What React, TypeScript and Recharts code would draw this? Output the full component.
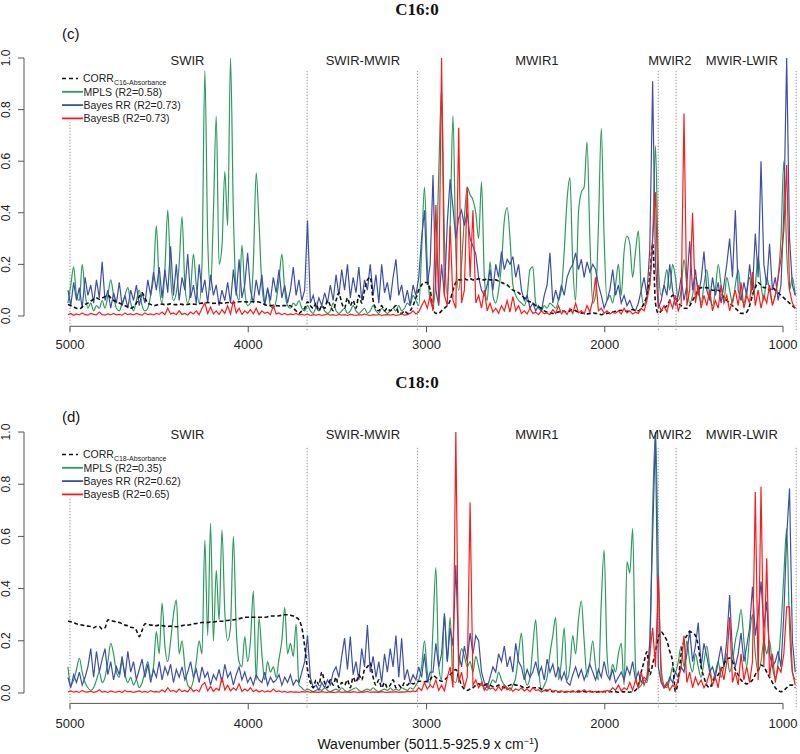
import React from 'react';
import { ComposedChart, Line, XAxis, YAxis, ReferenceLine, ReferenceDot, Legend } from 'recharts';

// wavenumber grid (cm-1), high to low, 16 cm-1 apart
const wave = Array.from({ length: 256 }, (_, i) => 5011.5 - 16 * i);

const xTicks = [5000, 4000, 3000, 2000, 1000];
const yTicks = [0, 0.2, 0.4, 0.6, 0.8, 1.0];
const regionBounds = [5000, 3670, 3050, 1700, 1600, 926];
const regionNames = ['SWIR', 'SWIR-MWIR', 'MWIR1', 'MWIR2', 'MWIR-LWIR'];
const regionCentres = [4341, 3357, 2381, 1635, 1231];

// ---- C16:0 ----
const c16Corr = [
  0.045,0.04,0.035,0.03,0.028,0.035,0.045,0.05,0.058,0.065,0.07,0.065,0.07,0.075,0.08,0.07,
  0.06,0.055,0.05,0.045,0.04,0.035,0.03,0.035,0.05,0.075,0.09,0.07,0.05,0.045,0.04,0.042,
  0.045,0.046,0.044,0.045,0.047,0.045,0.044,0.046,0.045,0.043,0.045,0.047,0.046,0.045,0.048,0.05,
  0.05,0.052,0.05,0.049,0.05,0.051,0.05,0.05,0.052,0.05,0.05,0.054,0.055,0.056,0.055,0.054,
  0.055,0.056,0.055,0.054,0.05,0.045,0.04,0.04,0.041,0.04,0.039,0.04,0.04,0.041,0.04,0.03,
  0.02,0.01,0.02,0.03,0.055,0.04,0.03,0.05,0.02,0.04,0.03,0.06,0.04,0.02,0.06,0.09,
  0.05,0.03,0.07,0.04,0.06,0.03,0.08,0.05,0.10,0.14,0.15,0.06,0.03,0.02,0.04,0.02,
  0.03,0.02,0.03,0.04,0.01,0.01,0.02,0.01,0.02,0.04,0.07,0.10,0.12,0.13,0.13,0.10,
  0.03,0.01,0.01,0.02,0.03,0.04,0.06,0.10,0.13,0.14,0.14,0.145,0.14,0.145,0.14,0.14,
  0.145,0.14,0.14,0.145,0.14,0.14,0.14,0.135,0.13,0.125,0.12,0.11,0.10,0.095,0.09,0.08,
  0.07,0.06,0.055,0.05,0.04,0.035,0.03,0.02,0.015,0.012,0.01,0.012,0.015,0.02,0.018,0.015,
  0.02,0.025,0.02,0.015,0.012,0.01,0.008,0.01,0.012,0.01,0.008,0.005,0.008,0.01,0.012,0.015,
  0.018,0.02,0.022,0.02,0.018,0.02,0.025,0.02,0.02,0.03,0.05,0.08,0.15,0.28,0.05,0.01,
  0.02,0.03,0.04,0.06,0.08,0.07,0.05,0.04,0.03,0.03,0.04,0.06,0.08,0.10,0.11,0.11,
  0.11,0.105,0.10,0.10,0.10,0.09,0.07,0.06,0.05,0.04,0.03,0.02,0.01,0.01,0.015,0.04,
  0.08,0.11,0.13,0.12,0.11,0.11,0.10,0.11,0.10,0.09,0.08,0.07,0.06,0.05,0.04,0.03,
];
const c16Mpls = [
  0.05,0.12,0.19,0.08,0.06,0.20,0.09,0.03,0.05,0.02,0.04,0.03,0.06,0.03,0.08,0.14,
  0.08,0.03,0.02,0.05,0.08,0.11,0.05,0.02,0.06,0.10,0.04,0.02,0.03,0.08,0.15,0.35,
  0.12,0.05,0.18,0.41,0.15,0.06,0.09,0.20,0.385,0.12,0.05,0.10,0.24,0.12,0.05,0.20,
  0.95,0.30,0.10,0.40,0.775,0.20,0.27,0.56,0.35,1.0,0.40,0.10,0.06,0.275,0.10,0.04,
  0.05,0.20,0.555,0.36,0.12,0.05,0.10,0.04,0.03,0.06,0.14,0.24,0.10,0.04,0.03,0.05,
  0.04,0.06,0.03,0.02,0.04,0.02,0.01,0.03,0.02,0.04,0.02,0.01,0.02,0.05,0.02,0.01,
  0.02,0.03,0.01,0.02,0.04,0.02,0.01,0.02,0.03,0.01,0.02,0.04,0.02,0.01,0.03,0.02,
  0.01,0.02,0.03,0.02,0.04,0.02,0.03,0.05,0.04,0.08,0.06,0.04,0.25,0.50,0.20,0.06,
  0.04,0.15,0.55,0.88,0.30,0.08,0.35,0.776,0.25,0.10,0.20,0.38,0.50,0.47,0.45,0.40,
  0.30,0.52,0.15,0.06,0.21,0.08,0.05,0.10,0.20,0.37,0.42,0.30,0.12,0.08,0.06,0.05,
  0.04,0.08,0.18,0.19,0.05,0.03,0.02,0.04,0.03,0.05,0.04,0.03,0.06,0.10,0.25,0.45,
  0.536,0.20,0.06,0.40,0.48,0.50,0.675,0.30,0.05,0.08,0.35,0.727,0.30,0.06,0.08,0.05,
  0.12,0.20,0.08,0.25,0.31,0.28,0.15,0.25,0.33,0.10,0.04,0.08,0.12,0.30,0.66,0.20,
  0.08,0.12,0.18,0.10,0.20,0.15,0.06,0.10,0.22,0.12,0.05,0.08,0.15,0.10,0.05,0.12,
  0.18,0.08,0.04,0.10,0.20,0.12,0.06,0.15,0.10,0.05,0.12,0.18,0.08,0.05,0.10,0.15,
  0.08,0.12,0.23,0.12,0.06,0.15,0.10,0.05,0.08,0.15,0.30,0.60,0.25,0.10,0.15,0.08,
];
const c16Rr = [
  0.10,0.04,0.13,0.06,0.11,0.03,0.15,0.08,0.12,0.05,0.14,0.07,0.21,0.06,0.10,0.03,
  0.09,0.05,0.13,0.04,0.08,0.03,0.10,0.06,0.12,0.04,0.09,0.05,0.14,0.08,0.17,0.10,
  0.19,0.07,0.18,0.09,0.27,0.08,0.20,0.06,0.15,0.10,0.24,0.07,0.12,0.05,0.20,0.09,
  0.14,0.05,0.16,0.08,0.12,0.04,0.10,0.06,0.13,0.05,0.18,0.08,0.22,0.07,0.12,0.245,
  0.10,0.05,0.14,0.08,0.16,0.04,0.11,0.06,0.15,0.09,0.18,0.07,0.12,0.05,0.10,0.19,
  0.08,0.14,0.06,0.10,0.37,0.05,0.08,0.03,0.07,0.04,0.09,0.05,0.12,0.06,0.16,0.08,
  0.18,0.10,0.20,0.07,0.15,0.09,0.19,0.06,0.14,0.10,0.20,0.08,0.16,0.05,0.20,0.09,
  0.13,0.06,0.15,0.22,0.08,0.12,0.05,0.10,0.04,0.12,0.08,0.15,0.30,0.41,0.12,0.20,
  0.546,0.10,0.04,0.20,0.08,0.36,0.53,0.42,0.30,0.38,0.41,0.35,0.40,0.30,0.27,0.24,
  0.15,0.10,0.08,0.12,0.18,0.10,0.20,0.15,0.25,0.18,0.22,0.20,0.23,0.15,0.20,0.10,
  0.06,0.08,0.03,0.05,0.02,0.04,0.02,0.08,0.12,0.245,0.05,0.10,0.06,0.12,0.08,0.15,
  0.18,0.20,0.245,0.18,0.22,0.15,0.21,0.17,0.20,0.18,0.12,0.08,0.03,0.06,0.10,0.18,
  0.08,0.12,0.05,0.08,0.04,0.06,0.03,0.02,0.05,0.10,0.15,0.08,0.26,0.91,0.20,0.03,
  0.06,0.12,0.08,0.20,0.10,0.04,0.08,0.15,0.06,0.12,0.29,0.10,0.18,0.08,0.14,0.25,
  0.10,0.06,0.15,0.08,0.13,0.05,0.12,0.20,0.30,0.15,0.41,0.10,0.06,0.13,0.08,0.20,
  0.10,0.32,0.15,0.60,0.20,0.12,0.28,0.10,0.15,0.06,0.12,0.40,1.0,0.30,0.12,0.08,
];
const c16B = [
  0.005,0.01,0.003,0.008,0.004,0.012,0.005,0.003,0.01,0.006,0.004,0.015,0.005,0.003,0.008,0.005,
  0.01,0.004,0.006,0.003,0.012,0.005,0.008,0.004,0.01,0.006,0.003,0.012,0.005,0.008,0.004,0.01,
  0.006,0.015,0.005,0.03,0.008,0.012,0.005,0.02,0.006,0.01,0.004,0.015,0.008,0.02,0.005,0.03,
  0.05,0.01,0.035,0.008,0.02,0.006,0.025,0.01,0.04,0.008,0.06,0.012,0.03,0.006,0.02,0.01,
  0.025,0.008,0.03,0.005,0.02,0.01,0.015,0.005,0.04,0.008,0.012,0.005,0.01,0.004,0.008,0.005,
  0.01,0.004,0.006,0.003,0.008,0.002,0.005,0.003,0.006,0.002,0.004,0.008,0.003,0.005,0.002,0.006,
  0.003,0.005,0.002,0.006,0.004,0.002,0.005,0.003,0.008,0.004,0.002,0.005,0.003,0.006,0.002,0.004,
  0.005,0.003,0.006,0.002,0.004,0.008,0.003,0.005,0.01,0.02,0.008,0.015,0.04,0.06,0.03,0.08,
  0.02,0.43,0.05,1.0,0.08,0.04,0.35,0.06,0.03,0.73,0.05,0.10,0.50,0.15,0.41,0.05,
  0.08,0.03,0.10,0.02,0.05,0.015,0.03,0.01,0.04,0.02,0.06,0.015,0.075,0.02,0.04,0.01,
  0.02,0.008,0.03,0.01,0.015,0.005,0.02,0.008,0.012,0.005,0.025,0.01,0.04,0.008,0.02,0.006,
  0.03,0.01,0.05,0.012,0.02,0.008,0.04,0.015,0.06,0.15,0.02,0.03,0.01,0.02,0.008,0.015,
  0.01,0.02,0.008,0.03,0.012,0.02,0.008,0.015,0.01,0.03,0.02,0.06,0.12,0.30,0.48,0.05,
  0.02,0.04,0.015,0.06,0.03,0.08,0.02,0.05,0.785,0.04,0.10,0.40,0.05,0.12,0.03,0.08,
  0.04,0.10,0.02,0.06,0.03,0.12,0.05,0.08,0.02,0.06,0.10,0.04,0.13,0.03,0.08,0.05,
  0.17,0.04,0.10,0.03,0.08,0.05,0.12,0.04,0.08,0.15,0.22,0.33,0.585,0.10,0.05,0.03,
];

// ---- C18:0 ----
const c18Corr = [
  0.275,0.273,0.27,0.265,0.262,0.26,0.258,0.256,0.255,0.25,0.255,0.255,0.245,0.25,0.28,0.278,
  0.275,0.272,0.27,0.265,0.26,0.258,0.252,0.25,0.24,0.216,0.24,0.265,0.262,0.26,0.26,0.258,
  0.26,0.258,0.256,0.255,0.256,0.255,0.254,0.255,0.258,0.26,0.26,0.262,0.265,0.266,0.268,0.27,
  0.27,0.27,0.272,0.272,0.274,0.275,0.275,0.277,0.278,0.28,0.28,0.282,0.285,0.287,0.29,0.29,
  0.292,0.29,0.29,0.29,0.29,0.29,0.292,0.295,0.295,0.295,0.296,0.298,0.30,0.30,0.298,0.295,
  0.29,0.28,0.25,0.18,0.09,0.04,0.02,0.05,0.03,0.08,0.04,0.02,0.05,0.03,0.06,0.02,
  0.04,0.03,0.05,0.02,0.06,0.04,0.07,0.05,0.09,0.10,0.115,0.06,0.03,0.05,0.02,0.04,
  0.02,0.03,0.05,0.02,0.03,0.02,0.04,0.03,0.04,0.035,0.04,0.045,0.045,0.043,0.045,0.05,
  0.066,0.06,0.05,0.045,0.05,0.06,0.07,0.08,0.09,0.06,0.03,0.015,0.01,0.015,0.02,0.03,
  0.035,0.03,0.03,0.035,0.03,0.025,0.025,0.03,0.025,0.02,0.025,0.03,0.035,0.03,0.03,0.025,
  0.02,0.02,0.025,0.02,0.02,0.02,0.015,0.012,0.01,0.008,0.005,0.006,0.004,0.005,0.003,0.005,
  0.004,0.006,0.003,0.005,0.004,0.006,0.003,0.005,0.004,0.003,0.005,0.004,0.006,0.003,0.005,0.004,
  0.005,0.003,0.006,0.004,0.005,0.003,0.006,0.01,0.03,0.08,0.12,0.158,0.07,0.11,0.16,0.21,
  0.235,0.22,0.20,0.16,0.12,0.005,0.05,0.15,0.197,0.22,0.235,0.23,0.22,0.18,0.10,0.06,
  0.03,0.02,0.04,0.06,0.07,0.09,0.11,0.13,0.134,0.12,0.09,0.07,0.05,0.04,0.035,0.04,
  0.05,0.07,0.09,0.107,0.10,0.08,0.06,0.04,0.02,0.01,0.005,0.01,0.02,0.03,0.03,0.02,
];
const c18Mpls = [
  0.10,0.03,0.05,0.09,0.133,0.08,0.04,0.02,0.01,0.02,0.05,0.08,0.04,0.06,0.12,0.19,
  0.15,0.08,0.06,0.12,0.07,0.04,0.06,0.03,0.05,0.02,0.04,0.08,0.12,0.06,0.10,0.235,
  0.15,0.344,0.18,0.12,0.20,0.30,0.357,0.15,0.20,0.10,0.03,0.02,0.05,0.12,0.20,0.15,
  0.586,0.22,0.65,0.20,0.47,0.28,0.625,0.31,0.20,0.254,0.60,0.25,0.12,0.10,0.216,0.12,
  0.20,0.39,0.05,0.286,0.15,0.05,0.12,0.08,0.10,0.06,0.13,0.20,0.327,0.15,0.19,0.14,
  0.263,0.03,0.02,0.01,0.015,0.01,0.005,0.01,0.015,0.01,0.02,0.01,0.005,0.01,0.015,0.01,
  0.02,0.01,0.005,0.01,0.015,0.02,0.01,0.005,0.01,0.015,0.01,0.02,0.01,0.005,0.01,0.015,
  0.01,0.02,0.01,0.015,0.01,0.02,0.015,0.01,0.02,0.015,0.03,0.05,0.10,0.20,0.08,0.03,
  0.25,0.48,0.10,0.05,0.30,0.12,0.29,0.05,0.04,0.10,0.17,0.14,0.10,0.12,0.08,0.14,
  0.10,0.05,0.02,0.01,0.03,0.05,0.04,0.08,0.05,0.03,0.02,0.01,0.03,0.06,0.15,0.229,
  0.08,0.03,0.06,0.18,0.28,0.10,0.01,0.03,0.06,0.15,0.22,0.29,0.05,0.12,0.25,0.05,
  0.10,0.22,0.15,0.28,0.352,0.20,0.06,0.12,0.20,0.10,0.05,0.35,0.548,0.15,0.06,0.11,
  0.08,0.15,0.19,0.03,0.503,0.46,0.63,0.10,0.02,0.03,0.05,0.04,0.15,0.70,1.0,0.48,
  0.10,0.03,0.02,0.05,0.10,0.08,0.12,0.18,0.10,0.20,0.12,0.08,0.15,0.10,0.06,0.12,
  0.18,0.10,0.05,0.08,0.12,0.06,0.10,0.15,0.08,0.12,0.20,0.25,0.32,0.20,0.10,0.22,
  0.30,0.15,0.08,0.12,0.20,0.15,0.20,0.10,0.06,0.12,0.25,0.45,0.63,0.25,0.08,0.05,
];
const c18Rr = [
  0.06,0.02,0.07,0.04,0.08,0.03,0.06,0.10,0.17,0.06,0.16,0.08,0.13,0.17,0.07,0.12,
  0.05,0.10,0.07,0.14,0.06,0.16,0.08,0.12,0.05,0.09,0.13,0.06,0.11,0.04,0.09,0.06,
  0.12,0.05,0.10,0.07,0.11,0.04,0.09,0.06,0.10,0.05,0.08,0.12,0.06,0.09,0.04,0.10,
  0.06,0.08,0.03,0.07,0.05,0.09,0.04,0.11,0.06,0.08,0.03,0.07,0.10,0.05,0.08,0.04,
  0.06,0.03,0.07,0.05,0.04,0.08,0.03,0.06,0.04,0.05,0.07,0.03,0.06,0.04,0.07,0.03,
  0.05,0.04,0.08,0.12,0.22,0.06,0.02,0.03,0.01,0.04,0.02,0.05,0.03,0.08,0.10,0.06,
  0.14,0.21,0.09,0.216,0.07,0.12,0.05,0.17,0.10,0.26,0.08,0.14,0.06,0.12,0.04,0.15,
  0.08,0.17,0.10,0.22,0.06,0.21,0.05,0.09,0.04,0.07,0.05,0.10,0.06,0.15,0.04,0.08,
  0.08,0.19,0.10,0.15,0.305,0.12,0.25,0.18,0.49,0.15,0.10,0.18,0.12,0.23,0.15,0.22,
  0.20,0.08,0.04,0.02,0.06,0.10,0.08,0.15,0.12,0.18,0.10,0.14,0.08,0.19,0.12,0.10,
  0.05,0.09,0.06,0.08,0.12,0.07,0.10,0.05,0.13,0.08,0.11,0.06,0.10,0.05,0.08,0.04,
  0.03,0.07,0.10,0.06,0.09,0.05,0.08,0.11,0.08,0.05,0.09,0.06,0.12,0.07,0.05,0.09,
  0.04,0.06,0.08,0.05,0.10,0.07,0.12,0.05,0.08,0.04,0.06,0.05,0.20,0.60,1.0,0.10,
  0.04,0.02,0.03,0.06,0.04,0.08,0.06,0.10,0.08,0.15,0.24,0.12,0.18,0.27,0.10,0.19,
  0.14,0.08,0.10,0.06,0.12,0.18,0.10,0.20,0.375,0.15,0.10,0.15,0.23,0.12,0.18,0.25,
  0.407,0.22,0.30,0.427,0.25,0.35,0.15,0.10,0.12,0.16,0.10,0.30,0.60,0.784,0.20,0.08,
];
const c18B = [
  0.004,0.008,0.003,0.006,0.002,0.01,0.004,0.003,0.007,0.002,0.005,0.012,0.003,0.006,0.002,0.008,
  0.004,0.003,0.007,0.002,0.01,0.004,0.006,0.002,0.005,0.008,0.003,0.006,0.002,0.009,0.004,0.005,
  0.003,0.012,0.004,0.02,0.006,0.01,0.003,0.015,0.005,0.01,0.004,0.02,0.006,0.012,0.005,0.03,
  0.04,0.008,0.025,0.006,0.018,0.01,0.06,0.012,0.03,0.008,0.02,0.01,0.035,0.006,0.015,0.008,
  0.02,0.005,0.012,0.004,0.01,0.003,0.008,0.004,0.015,0.005,0.008,0.003,0.006,0.002,0.005,0.003,
  0.004,0.002,0.005,0.003,0.006,0.002,0.004,0.003,0.002,0.005,0.003,0.002,0.004,0.002,0.003,0.005,
  0.002,0.004,0.003,0.002,0.005,0.003,0.002,0.004,0.003,0.006,0.002,0.004,0.003,0.002,0.005,0.003,
  0.002,0.004,0.003,0.005,0.002,0.004,0.003,0.006,0.004,0.008,0.005,0.02,0.01,0.04,0.015,0.03,
  0.02,0.05,0.01,0.03,0.008,0.06,0.10,0.02,1.0,0.04,0.08,0.02,0.06,0.73,0.03,0.05,
  0.02,0.04,0.01,0.03,0.015,0.02,0.008,0.025,0.01,0.03,0.012,0.02,0.006,0.015,0.01,0.02,
  0.008,0.015,0.005,0.02,0.01,0.012,0.004,0.01,0.006,0.015,0.005,0.01,0.004,0.008,0.003,0.006,
  0.004,0.008,0.003,0.01,0.005,0.012,0.004,0.008,0.003,0.006,0.002,0.005,0.004,0.01,0.006,0.02,
  0.01,0.03,0.008,0.02,0.012,0.04,0.01,0.05,0.02,0.08,0.03,0.06,0.15,0.25,0.10,0.45,
  0.05,0.02,0.04,0.01,0.03,0.02,0.05,0.10,0.22,0.04,0.08,0.02,0.06,0.03,0.05,0.02,
  0.04,0.08,0.03,0.06,0.02,0.10,0.05,0.12,0.29,0.04,0.08,0.03,0.15,0.05,0.10,0.04,
  0.12,0.77,0.05,0.79,0.10,0.516,0.06,0.15,0.04,0.10,0.08,0.15,0.33,0.33,0.08,0.03,
];

const GREEN = '#2b9c5c';
const BLUE = '#3d4fa6';
const RED = '#ff1a1a';
const FONT = '"Liberation Sans", Arial, sans-serif';

interface PanelProps {
  top: number;
  height: number;
  marginTop: number;
  marginBottom: number;
  tickBaseline: number;
  sub: string;
  r2: string[];
  corr: number[];
  mpls: number[];
  rr: number[];
  bb: number[];
  firstLineTop: number;
  lineTop: number;
}

function YTick({ y, payload }: { y?: number; payload?: { value: number } }) {
  return (
    <text transform={`translate(10,${y}) rotate(-90)`} textAnchor="middle" fontSize={12} fill="#222">
      {payload!.value.toFixed(1)}
    </text>
  );
}

function XTick({ x, payload, baseline }: { x?: number; payload?: { value: number }; baseline: number }) {
  return (
    <text x={x} y={baseline} textAnchor="middle" fontSize={13} fill="#222">
      {payload!.value}
    </text>
  );
}

function LegendBox({ sub, r2 }: { sub: string; r2: string[] }) {
  const rows = [GREEN, BLUE, RED];
  const labels = ['MPLS', 'Bayes RR', 'BayesB'];
  return (
    <svg width={170} height={60} style={{ fontFamily: FONT }}>
      <line x1={4} x2={20} y1={8.5} y2={8.5} stroke="#111" strokeWidth={1.6} strokeDasharray="4 3" />
      <text x={25} y={12} fontSize={10.5} fill="#222">
        CORR<tspan fontSize={7} dy={3}>{sub}</tspan>
      </text>
      {rows.map((c, i) => (
        <g key={c}>
          <line x1={4} x2={25} y1={21.8 + i * 13.3} y2={21.8 + i * 13.3} stroke={c} strokeWidth={1.8} />
          <text x={25.5} y={25.5 + i * 13.3} fontSize={10.5} fill="#222">
            {`${labels[i]} (R2=${r2[i]})`}
          </text>
        </g>
      ))}
    </svg>
  );
}

function Panel(p: PanelProps) {
  const rows = wave.map((w, i) => ({ w, corr: p.corr[i], mpls: p.mpls[i], rr: p.rr[i], bb: p.bb[i] }));
  return (
    <div style={{ position: 'absolute', left: 0, top: p.top, fontFamily: FONT }}>
      <ComposedChart
        width={800}
        height={p.height}
        data={rows}
        margin={{ top: p.marginTop, right: 2, bottom: p.marginBottom, left: 0 }}
      >
        <XAxis
          type="number"
          dataKey="w"
          domain={[916, 5258]}
          reversed
          allowDataOverflow
          ticks={xTicks}
          interval={0}
          axisLine={false}
          tickLine={{ stroke: '#555' }}
          tickSize={6}
          tick={<XTick baseline={p.tickBaseline} />}
          height={30}
        />
        <YAxis
          type="number"
          domain={[-0.04, 1.04]}
          allowDataOverflow
          ticks={yTicks}
          interval={0}
          width={24}
          axisLine={false}
          tickLine={{ stroke: '#555' }}
          tickSize={6}
          tick={<YTick />}
        />
        <ReferenceLine segment={[{ x: 5000, y: -0.04 }, { x: 1000, y: -0.04 }]} stroke="#555" ifOverflow="visible" />
        <ReferenceLine segment={[{ x: 5258, y: 0 }, { x: 5258, y: 1 }]} stroke="#555" ifOverflow="visible" />
        {regionBounds.map((b, i) => (
          <ReferenceLine
            key={b}
            segment={[{ x: b, y: -0.055 }, { x: b, y: i === 0 ? p.firstLineTop : p.lineTop }]}
            stroke="#999"
            strokeDasharray="1.5 1.5"
            ifOverflow="visible"
          />
        ))}
        {regionNames.map((n, i) => (
          <ReferenceDot
            key={n}
            x={regionCentres[i]}
            y={0.99}
            r={1}
            fill="none"
            stroke="none"
            ifOverflow="visible"
            label={{ value: n, position: 'center', fill: '#222', fontSize: 13 }}
          />
        ))}
        <Legend
          layout="vertical"
          align="center"
          verticalAlign="middle"
          wrapperStyle={{ left: 58, top: 70, width: 170 }}
          content={() => <LegendBox sub={p.sub} r2={p.r2} />}
        />
        <Line type="monotone" dataKey="mpls" name="MPLS" stroke={GREEN} strokeWidth={1.2} dot={false} isAnimationActive={false} />
        <Line type="linear" dataKey="rr" name="Bayes RR" stroke={BLUE} strokeWidth={1.2} dot={false} isAnimationActive={false} />
        <Line type="monotone" dataKey="corr" name="CORR" stroke="#111" strokeWidth={1.6} strokeDasharray="4 2.5" dot={false} isAnimationActive={false} />
        <Line type="linear" dataKey="bb" name="BayesB" stroke={RED} strokeWidth={1.2} dot={false} isAnimationActive={false} />
      </ComposedChart>
    </div>
  );
}

export default function App() {
  return (
    <div style={{ position: 'absolute', left: 0, top: 0, width: 800, height: 754, background: '#fff', overflow: 'hidden' }}>
      <Panel
        top={0}
        height={370}
        marginTop={47.7}
        marginBottom={13.7}
        tickBaseline={348.5}
        sub="C16-Absorbance"
        r2={['0.58', '0.73', '0.73']}
        corr={c16Corr}
        mpls={c16Mpls}
        rr={c16Rr}
        bb={c16B}
        firstLineTop={0.75}
        lineTop={0.95}
      />
      <Panel
        top={376}
        height={378}
        marginTop={45.6}
        marginBottom={20.6}
        tickBaseline={351.5}
        sub="C18-Absorbance"
        r2={['0.35', '0.62', '0.65']}
        corr={c18Corr}
        mpls={c18Mpls}
        rr={c18Rr}
        bb={c18B}
        firstLineTop={0.75}
        lineTop={0.94}
      />
      <svg width={800} height={754} style={{ position: 'absolute', left: 0, top: 0, pointerEvents: 'none' }}>
        <text x={417} y={15} textAnchor="middle" fontSize={17} fontWeight="bold" fontFamily='"Liberation Serif", serif' fill="#111">C16:0</text>
        <text x={62} y={39} fontSize={15} fontFamily={FONT} fill="#111">(c)</text>
        <text x={417} y={388} textAnchor="middle" fontSize={17} fontWeight="bold" fontFamily='"Liberation Serif", serif' fill="#111">C18:0</text>
        <text x={62} y={422} fontSize={15} fontFamily={FONT} fill="#111">(d)</text>
        <text x={428} y={749} textAnchor="middle" fontSize={14} fontFamily={FONT} fill="#111">
          Wavenumber (5011.5-925.9 x cm<tspan fontSize={9} dy={-5}>−1</tspan><tspan dy={5}>)</tspan>
        </text>
      </svg>
    </div>
  );
}
